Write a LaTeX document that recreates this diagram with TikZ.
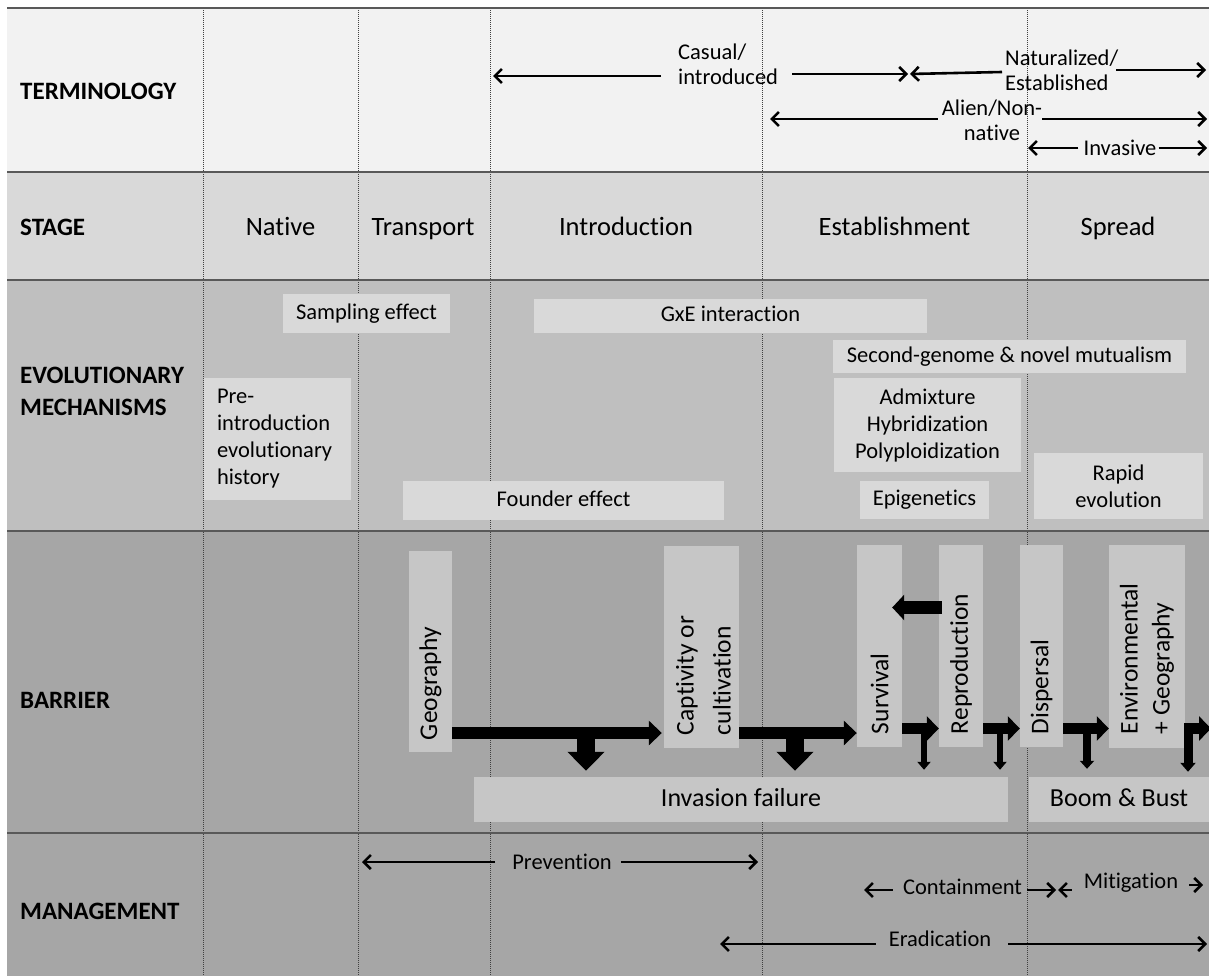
\documentclass[tikz,border=0pt]{standalone}
\usepackage{fontspec}
\setmainfont{Carlito}[Ligatures=NoCommon]
\usetikzlibrary{arrows.meta,calc}
\definecolor{termbg}{HTML}{F2F2F2}
\definecolor{stagebg}{HTML}{D9D9D9}
\definecolor{mechbg}{HTML}{BFBFBF}
\definecolor{barbg}{HTML}{A6A6A6}
\definecolor{mechbox}{HTML}{D9D9D9}
\definecolor{barbox}{HTML}{C6C6C6}
\definecolor{linegray}{HTML}{595959}
\definecolor{dotgray}{HTML}{404040}
\tikzset{
  rowlabel/.style={anchor=west, inner sep=0pt, align=left, font=\bfseries\fontsize{25}{32}\selectfont},
  stagelabel/.style={anchor=base, inner sep=0pt, font=\fontsize{26.5}{32}\selectfont},
  mbox/.style={fill=mechbox, inner sep=0pt, align=center, font=\fontsize{22.5}{27}\selectfont},
  oneline/.style={text height=16pt, text depth=5pt},
  bbox/.style={fill=barbox, inner sep=0pt},
  btext/.style={rotate=90, anchor=west, inner sep=0pt, align=left, font=\fontsize{25.5}{32}\selectfont},
  ftext/.style={fill=barbox, inner sep=0pt, text height=19.5pt, text depth=5pt, font=\fontsize{26}{31}\selectfont},
  ttext/.style={inner sep=0pt, font=\fontsize{22.5}{25}\selectfont},
  tarr/.style={line width=2.6pt, -{Straight Barb[length=7pt,width=14pt]}},
  bigarr/.style={line width=12pt, -{Triangle[length=13pt,width=24pt]}},
  droparr/.style={line width=18pt, -{Triangle[length=19pt,width=36pt]}},
  medarr/.style={line width=11pt, -{Triangle[length=12pt,width=24pt]}},
  thinarr/.style={line width=6pt, -{Triangle[length=8pt,width=13pt]}},
  rowline/.style={line width=1.8pt, draw=linegray},
  colline/.style={line width=0.8pt, draw=dotgray, dash pattern=on 1pt off 1pt},
}
\begin{document}
\begin{tikzpicture}[x=1pt,y=-1pt]
\useasboundingbox (0,0) rectangle (1209,976);
\clip (0,0) rectangle (1209,976);
\fill[white] (0,0) rectangle (1209,976);
% row fills
\fill[termbg] (7,8) rectangle (1209,172);
\fill[stagebg] (7,172) rectangle (1209,280);
\fill[mechbg] (7,280) rectangle (1209,531);
\fill[barbg] (7,531) rectangle (1209,976);
% column dotted lines
\foreach \cx in {203,358,490,762,1027} \draw[colline] (\cx,8) -- (\cx,976);
% row lines
\foreach \ry in {8,172,280,531,833} \draw[rowline] (7,\ry) -- (1209,\ry);

% row labels
\node[rowlabel] (lterm) at (20,91) {TERMINOLOGY};
\node[rowlabel] (lstage) at (20,227) {STAGE};
\node[rowlabel] (lmech) at (20,391) {EVOLUTIONARY\\MECHANISMS};
\node[rowlabel] (lbar) at (20,700) {BARRIER};
\node[rowlabel] (lman) at (20,911) {MANAGEMENT};

% stages
\node[stagelabel] (snat) at (280.5,236) {Native};
\node[stagelabel] (stra) at (423,236) {Transport};
\node[stagelabel] (sint) at (626,236) {Introduction};
\node[stagelabel] (sest) at (894.5,236) {Establishment};
\node[stagelabel] (sspr) at (1118,236) {Spread};

% terminology
\node[ttext, anchor=west, align=left] (tcas) at (678,64.5) {Casual/\\introduced};
\node[ttext, anchor=west, align=left] (tnat) at (1005,70.5) {Naturalized/\\Established};
\node[ttext, align=center] (tali) at (992,120) {Alien/Non-\\native};
\node[ttext] (tinv) at (1120,148) {Invasive};
\coordinate (cL) at (493,76);
\coordinate (cR) at (908,74);
\coordinate (nL) at (910,74);
\coordinate (nR) at (1206,70);
\coordinate (aL) at (770,119);
\coordinate (aR) at (1207,119);
\coordinate (iL) at (1028,148);
\coordinate (iR) at (1207,148);
\draw[tarr] ($(tcas.west)+(-17,11.5)$) -- (cL);
\draw[tarr] ($(tcas.east)+(14,9.5)$) -- (cR);
\draw[tarr] ($(tnat.west)+(-3,1.5)$) -- (nL);
\draw[tarr] ($(tnat.east)+(-2,-0.5)$) -- (nR);
\draw[tarr] ($(tali.west)+(-4,-1)$) -- (aL);
\draw[tarr] ($(tali.east)+(0,-1)$) -- (aR);
\draw[tarr] ($(tinv.west)+(-5,0)$) -- (iL);
\draw[tarr] ($(tinv.east)+(2,0)$) -- (iR);

% evolutionary mechanisms
\node[mbox, oneline, minimum width=167pt, minimum height=39pt] (samp) at (366.5,313.5) {Sampling effect};
\node[mbox, oneline, minimum width=393pt, minimum height=34pt] (gxe) at (730.5,316) {GxE interaction};
\node[mbox, oneline, minimum width=353pt, minimum height=33pt] (second) at (1009.5,356.5) {Second-genome \& novel mutualism};
\node[mbox, minimum width=187pt, minimum height=94pt] (admix) at (927.5,425) {Admixture\\Hybridization\\Polyploidization};
\node[mbox, oneline, minimum width=129pt, minimum height=38pt] (epi) at (924.5,500) {Epigenetics};
\node[mbox, minimum width=169pt, minimum height=66pt] (rapid) at (1118.5,486) {Rapid\\evolution};
\node[mbox, align=left, text width=121pt, inner xsep=13pt, minimum height=122pt] (preintro) at (277.5,439) {Pre-\\introduction\\evolutionary\\history};
\node[mbox, oneline, minimum width=321pt, minimum height=39pt] (founder) at (563.5,500.5) {Founder effect};

% barriers
\node[bbox, minimum width=43pt, minimum height=201pt] (geo) at (430.5,651.5) {};
\node[bbox, minimum width=75pt, minimum height=202pt] (capt) at (701.5,647) {};
\node[bbox, minimum width=45pt, minimum height=202pt] (surv) at (879.5,646) {};
\node[bbox, minimum width=44pt, minimum height=202pt] (repro) at (961,646) {};
\node[bbox, minimum width=43pt, minimum height=202pt] (disp) at (1041.5,646) {};
\node[bbox, minimum width=76pt, minimum height=203pt] (env) at (1147,646.5) {};
\node[btext] (geot) at ([yshift=12pt]geo.south) {Geography};
\node[btext] (captt) at ([xshift=2pt,yshift=13pt]capt.south) {Captivity or\\[5pt]cultivation};
\node[btext] (survt) at ([yshift=13pt]surv.south) {Survival};
\node[btext] (reprot) at ([yshift=13pt]repro.south) {Reproduction};
\node[btext] (dispt) at ([yshift=13pt]disp.south) {Dispersal};
\node[btext] (envt) at ([yshift=14pt]env.south) {Environmental\\+ Geography};
\node[ftext, minimum width=534pt, minimum height=45pt] (fail) at (741,799.5) {Invasion failure};
\node[ftext, minimum width=180pt, minimum height=45pt] (boom) at (1119,799.5) {Boom \& Bust};

% barrier arrows
\coordinate (r1) at (0,733);
\coordinate (r2) at (0,728.5);
\coordinate (r3) at (0,607.5);
\draw[bigarr, shorten >=2pt] (geo.east |- r1) -- (capt.west |- r1);
\draw[bigarr] (capt.east |- r1) -- (surv.west |- r1);
\coordinate (d1) at (586,733);
\coordinate (d2) at (795,733);
\draw[droparr, shorten >=6pt] (d1) -- (d1 |- fail.north);
\draw[droparr, shorten >=6pt] (d2) -- (d2 |- fail.north);
\draw[medarr] (surv.east |- r2) -- (repro.west |- r2);
\draw[medarr] (repro.east |- r2) -- (disp.west |- r2);
\draw[medarr] (disp.east |- r2) -- (env.west |- r2);
\coordinate (outR) at (1211,728.5);
\draw[medarr] (env.east |- r2) -- (outR);
\draw[line width=13pt, -{Triangle[length=12pt,width=25pt]}] ($(repro.west |- r3)+(3,0)$) -- ($(surv.east |- r3)+(-10,0)$);
\coordinate (t1) at (924,728.5);
\coordinate (t2) at (1000,728.5);
\coordinate (t3) at (1087,728.5);
\coordinate (t4) at (1188,723);
\draw[thinarr, shorten >=7pt] (t1) -- (t1 |- fail.north);
\draw[thinarr, shorten >=7pt] (t2) -- (t2 |- fail.north);
\draw[line width=8pt, -{Triangle[length=8pt,width=14pt]}, shorten >=8pt] (t3) -- (t3 |- boom.north);
\draw[line width=9pt, -{Triangle[length=9pt,width=15pt]}, shorten >=5pt] (t4) -- (t4 |- boom.north);

% management
\node[ttext] (mprev) at (562,862) {Prevention};
\node[ttext] (mcont) at (962.5,887) {Containment};
\node[ttext] (mmit) at (1131,883) {Mitigation};
\node[ttext] (merad) at (940,939) {Eradication};
\coordinate (pL) at (362,862);
\coordinate (pR) at (758,862);
\coordinate (kL) at (864,890);
\coordinate (kR) at (1056,890);
\coordinate (mL) at (1058,890);
\coordinate (mR) at (1203,885);
\coordinate (eL) at (720,944);
\coordinate (eR) at (1207,944);
\draw[tarr] ($(mprev.west)+(-17,0)$) -- (pL);
\draw[tarr] ($(mprev.east)+(9,0)$) -- (pR);
\draw[tarr] ($(mcont.west)+(-10,3)$) -- (kL);
\draw[tarr] ($(mcont.east)+(5,3)$) -- (kR);
\draw[tarr] ($(mmit.west)+(-12,7)$) -- (mL);
\draw[tarr] ($(mmit.east)+(11,2)$) -- (mR);
\draw[tarr] ($(merad.west)+(-13,5)$) -- (eL);
\draw[tarr] ($(merad.east)+(17,5)$) -- (eR);
\end{tikzpicture}
\end{document}
